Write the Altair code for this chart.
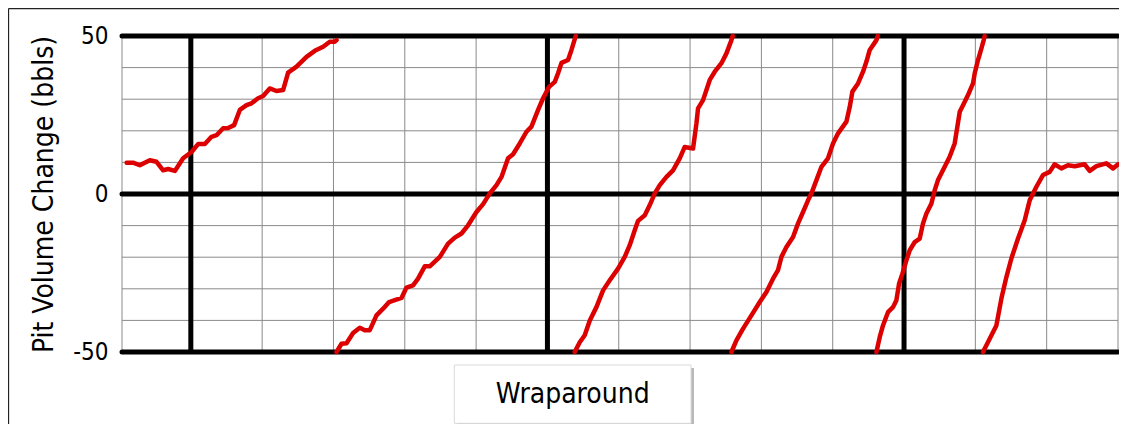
import altair as alt
import pandas as pd

# ---- data (x in grid units, y in bbls) ----
seg1_x = [0.10, 0.19, 0.285, 0.425, 0.519, 0.612, 0.682, 0.776, 0.892, 1.010, 1.102, 1.196, 1.290, 1.360, 1.453,
          1.523, 1.607, 1.687, 1.781, 1.851, 1.943, 2.014, 2.107, 2.201, 2.294, 2.364, 2.482, 2.622, 2.738, 2.855,
          2.949, 3.019, 3.043]
seg1_y = [9.9, 9.9, 9.1, 10.7, 10.2, 7.5, 7.9, 7.3, 11.3, 13.3, 15.8, 15.8, 18.1, 18.6, 20.8,
          20.9, 21.8, 26.6, 28.1, 28.7, 30.3, 31.0, 33.4, 32.6, 32.9, 38.4, 40.3, 43.4, 45.3, 46.6,
          48.2, 48.2, 48.7]

seg2_x = [3.043, 3.113, 3.183, 3.275, 3.369, 3.439, 3.509, 3.603, 3.696, 3.780, 3.860, 3.954, 4.024, 4.116, 4.186,
          4.280, 4.350, 4.491, 4.607, 4.701, 4.795, 4.887, 5.005, 5.098, 5.192, 5.286, 5.356, 5.448, 5.518, 5.612,
          5.706, 5.776, 5.869, 5.939, 6.023, 6.103, 6.149, 6.197, 6.289, 6.337, 6.383, 6.397]
seg2_y = [-50, -47.4, -47.2, -44.0, -42.3, -43.1, -43.1, -38.4, -36.3, -34.2, -33.6, -32.9, -29.6, -28.9, -26.8,
          -22.9, -22.9, -19.9, -15.7, -13.8, -12.5, -9.9, -5.7, -3.2, 0.2, 2.8, 5.4, 11.3, 12.6, 16.0,
          19.7, 21.3, 26.6, 30.3, 33.9, 35.5, 38.2, 41.5, 42.4, 45.6, 49.0, 50]

seg3_x = [6.383, 6.453, 6.523, 6.594, 6.687, 6.780, 6.874, 6.990, 7.084, 7.154, 7.224, 7.271, 7.365, 7.435, 7.505,
          7.575, 7.669, 7.761, 7.855, 7.925, 8.042, 8.089, 8.112, 8.182, 8.276, 8.346, 8.440, 8.510, 8.580, 8.598]
seg3_y = [-50, -46.9, -44.7, -40.0, -35.8, -30.5, -27.3, -23.6, -19.9, -16.2, -11.5, -8.5, -6.7, -3.5, 0.2,
          2.8, 5.4, 7.5, 11.3, 14.9, 14.4, 22.3, 27.1, 29.7, 36.1, 38.7, 41.4, 44.5, 48.7, 50]

seg4_x = [8.580, 8.650, 8.743, 8.860, 8.977, 9.071, 9.163, 9.233, 9.281, 9.351, 9.444, 9.514, 9.584, 9.654, 9.702,
          9.772, 9.842, 9.934, 10.004, 10.075, 10.192, 10.239, 10.276, 10.355, 10.425, 10.473, 10.519, 10.613, 10.631]
seg4_y = [-50, -46.3, -42.6, -38.4, -34.2, -31.0, -26.8, -24.1, -19.9, -16.8, -13.6, -9.3, -5.7, -2.0, 0.2,
          4.4, 8.6, 11.3, 16.0, 19.2, 22.9, 27.6, 32.4, 35.0, 38.7, 41.9, 45.6, 48.7, 50]

seg5_x = [10.613, 10.659, 10.705, 10.775, 10.846, 10.893, 10.930, 10.977, 11.033, 11.080, 11.150, 11.220, 11.266,
          11.314, 11.384, 11.430, 11.476, 11.570, 11.640, 11.710, 11.781, 11.827, 11.897, 11.967, 11.991, 12.037,
          12.085, 12.117, 12.130]
seg5_y = [-50, -45.3, -41.6, -37.4, -35.8, -33.6, -28.4, -25.2, -21.0, -17.8, -15.2, -14.1, -9.3,
          -6.2, -3.0, 1.2, 4.4, 8.6, 11.8, 16.0, 26.0, 28.1, 31.3, 35.0, 38.2, 42.4,
          46.1, 48.7, 50]

seg6_x = [12.107, 12.201, 12.295, 12.365, 12.435, 12.505, 12.598, 12.692, 12.762, 12.856, 12.948, 13.042, 13.112,
          13.206, 13.299, 13.393, 13.533, 13.603, 13.697, 13.837, 13.930, 14.000, 14.047]
seg6_y = [-50, -45.8, -41.6, -33.1, -26.3, -20.4, -14.1, -8.3, -2.0, 2.3, 6.0, 7.0, 9.4,
          8.1, 9.1, 8.8, 9.4, 7.3, 8.8, 9.7, 8.1, 9.4, 9.7]

GRID_X_THIN = [0.035, 2, 3, 4, 5, 7, 8, 9, 10, 12, 13, 14]
GRID_X_THICK = [1, 6, 11]
GRID_Y_THIN = [-40, -30, -20, -10, 10, 20, 30, 40]
GRID_Y_THICK = [-50, 0, 50]
Y_TICKS = [-50, 0, 50]
X_DOMAIN = [0.035, 14]
Y_DOMAIN = [-50, 50]
Y_TITLE = "Pit Volume Change (bbls)"
BOX_LABEL = "Wraparound"

FONT = "DejaVu Sans Condensed, Liberation Sans, sans-serif"

# ---- tables ----
rows = []
for s, (xs_, ys_) in enumerate([(seg1_x, seg1_y), (seg2_x, seg2_y), (seg3_x, seg3_y),
                                (seg4_x, seg4_y), (seg5_x, seg5_y), (seg6_x, seg6_y)]):
    for i, (a, b) in enumerate(zip(xs_, ys_)):
        rows.append({"u": a, "v": b, "seg": s, "i": i})
line_df = pd.DataFrame(rows)

xs = alt.Scale(domain=X_DOMAIN, nice=False, zero=False)
ys = alt.Scale(domain=Y_DOMAIN, nice=False, zero=False)

yaxis = alt.Axis(values=Y_TICKS, grid=False, domain=False, ticks=False, labelPadding=14,
                 labelExpr="datum.value < 0 ? '-' + abs(datum.value) : '' + datum.value",
                 labelFontSize=24, labelFont=FONT, labelColor="black",
                 title=Y_TITLE, titleFontSize=28, titleFont=FONT, titleFontWeight="normal",
                 titleColor="black", titleAngle=270, titleX=-70, titleY=158,
                 titleAlign="center", titleBaseline="alphabetic")

vthin = alt.Chart(pd.DataFrame({"gx": GRID_X_THIN, "lo": Y_DOMAIN[0], "hi": Y_DOMAIN[1]})).mark_rule(
    color="#8a8a8a", strokeWidth=1).encode(
    x=alt.X("gx:Q", scale=xs, axis=None),
    y=alt.Y("lo:Q", scale=ys, axis=yaxis), y2="hi:Q")

hthin = alt.Chart(pd.DataFrame({"gy": GRID_Y_THIN, "lo": X_DOMAIN[0], "hi": X_DOMAIN[1]})).mark_rule(
    color="#8a8a8a", strokeWidth=1).encode(
    y=alt.Y("gy:Q", scale=ys, axis=yaxis),
    x=alt.X("lo:Q", scale=xs, axis=None), x2="hi:Q")

vthick = alt.Chart(pd.DataFrame({"gx": GRID_X_THICK, "lo": Y_DOMAIN[0], "hi": Y_DOMAIN[1]})).mark_rule(
    color="black", strokeWidth=5).encode(
    x=alt.X("gx:Q", scale=xs, axis=None),
    y=alt.Y("lo:Q", scale=ys, axis=yaxis), y2="hi:Q")

hthick = alt.Chart(pd.DataFrame({"gy": GRID_Y_THICK, "lo": X_DOMAIN[0], "hi": X_DOMAIN[1]})).mark_rule(
    color="black", strokeWidth=5, strokeCap="round").encode(
    y=alt.Y("gy:Q", scale=ys, axis=yaxis),
    x=alt.X("lo:Q", scale=xs, axis=None), x2="hi:Q")

red = alt.Chart(line_df).mark_line(color="#dd0000", strokeWidth=4.5, strokeCap="round",
                                   strokeJoin="round").encode(
    x=alt.X("u:Q", scale=xs, axis=None),
    y=alt.Y("v:Q", scale=ys, axis=yaxis),
    detail="seg:N",
    order="i:Q")

one = pd.DataFrame({"k": [0]})
frame_top = alt.Chart(one).mark_rule(color="#222222", strokeWidth=1.3).encode(
    x=alt.value(-113.5), x2=alt.value(1000), y=alt.value(-27.5))
frame_left = alt.Chart(one).mark_rule(color="#222222", strokeWidth=1.3).encode(
    x=alt.value(-113.5), y=alt.value(-27.5), y2=alt.value(400))

shadow = alt.Chart(one).mark_rect(color="#8a8a8a", opacity=0.6).encode(
    x=alt.value(335), x2=alt.value(572), y=alt.value(332), y2=alt.value(390))
box = alt.Chart(one).mark_rect(fill="white", stroke="#d9d9d9", strokeWidth=1).encode(
    x=alt.value(332.3), x2=alt.value(569), y=alt.value(329), y2=alt.value(387.3))
box_text = alt.Chart(one).mark_text(text=BOX_LABEL, fontSize=28, font=FONT, color="black",
                                    align="center", baseline="alphabetic").encode(
    x=alt.value(450.7), y=alt.value(367.3))

chart = alt.layer(vthin, hthin, vthick, hthick, red, frame_top, frame_left, shadow, box, box_text).properties(
    width=996, height=316,
    padding={"left": 114, "top": 28, "right": 1, "bottom": 72},
    autosize=alt.AutoSizeParams(type="none"),
).configure_view(strokeWidth=0)

chart.save("out.html", embed_options={"renderer": "svg", "actions": False})
